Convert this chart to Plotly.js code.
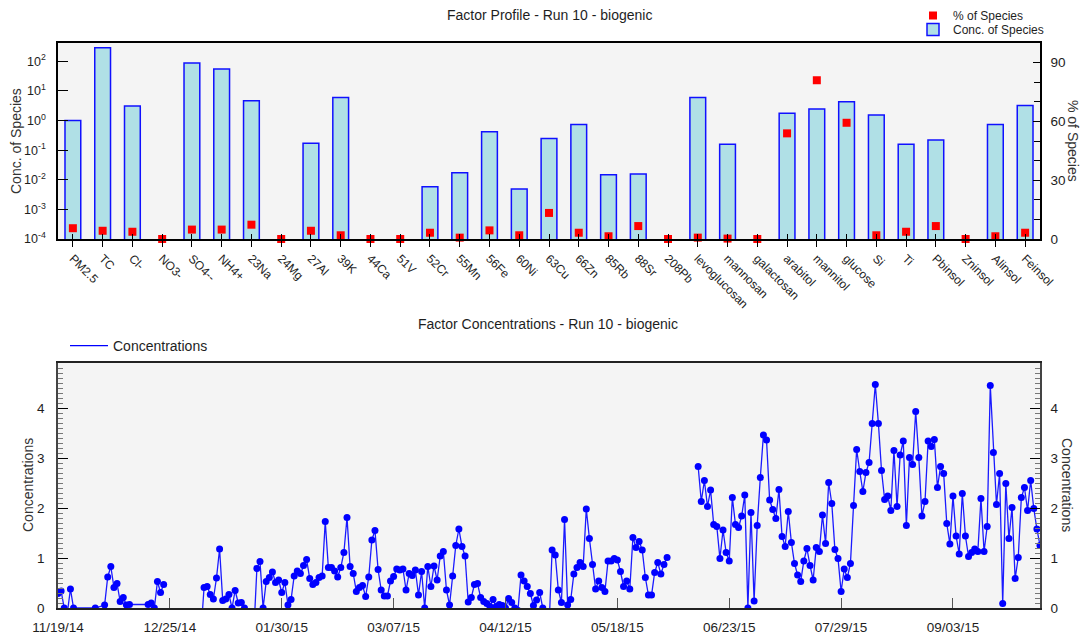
<!DOCTYPE html>
<html>
<head>
<meta charset="utf-8">
<script src="https://cdn.plot.ly/plotly-3.0.1.min.js"></script>
<style>
  html, body { margin: 0; padding: 0; background: #ffffff; }
  #chart { width: 1081px; height: 635px; }
</style>
</head>
<body>
<div id="chart"></div>
<script>
// ---- Factor profile (run 10, biogenic) ----
const species = ['PM2.5', 'TC', 'Cl-', 'NO3-', 'SO4--', 'NH4+', '23Na', '24Mg', '27Al', '39K',
  '44Ca', '51V', '52Cr', '55Mn', '56Fe', '60Ni', '63Cu', '66Zn', '85Rb', '88Sr', '208Pb',
  'levoglucosan', 'mannosan', 'galactosan', 'arabitol', 'mannitol', 'glucose', 'Si', 'Ti',
  'Pbinsol', 'Zninsol', 'Alinsol', 'Feinsol'];
const concOfSpecies = [1.0, 288, 3.1, 0, 88, 55, 4.7, 0, 0.17, 6.0,
  0, 0, 0.0058, 0.0173, 0.42, 0.0049, 0.25, 0.74, 0.0148, 0.0158, 0,
  6.0, 0.16, 0, 1.78, 2.45, 4.3, 1.54, 0.158,
  0.22, 0, 0.74, 3.2];
const pctOfSpecies = [5.5, 4.2, 3.7, 0, 4.8, 4.8, 7.3, 0, 4.2, 1.9,
  0, 0, 3.2, 0.7, 4.4, 1.9, 13.3, 3.2, 1.4, 6.6, 0,
  0.7, 0.2, 0, 53.9, 81.0, 59.3, 1.9, 3.7,
  6.6, 0, 1.4, 3.2];
const logTickVals = [1e-4, 1e-3, 1e-2, 1e-1, 1, 10, 100];
const logTickText = ['10<sup>-4</sup>', '10<sup>-3</sup>', '10<sup>-2</sup>', '10<sup>-1</sup>',
  '10<sup>0</sup>', '10<sup>1</sup>', '10<sup>2</sup>'];

// ---- Factor contributions over time (null = break in the line) ----
const sampleDates = [
  '2014-11-19', '2014-11-20', '2014-11-21', '2014-11-22', '2014-11-23', '2014-11-24',
  '2014-12-01', '2014-12-04', '2014-12-05', '2014-12-06', '2014-12-07', '2014-12-08',
  '2014-12-09', '2014-12-10', '2014-12-11', '2014-12-12', '2014-12-18', '2014-12-19',
  '2014-12-20', '2014-12-21', '2014-12-22', '2014-12-23', '2014-12-24',
  '2015-01-04', '2015-01-05', '2015-01-06', '2015-01-07', '2015-01-08', '2015-01-09',
  '2015-01-10', '2015-01-11', '2015-01-12', '2015-01-13', '2015-01-14', '2015-01-15',
  '2015-01-16', '2015-01-17', '2015-01-18', '2015-01-21', '2015-01-22', '2015-01-23',
  '2015-01-24', '2015-01-25', '2015-01-26', '2015-01-27', '2015-01-28', '2015-01-29',
  '2015-01-30', '2015-01-31',
  '2015-02-01', '2015-02-02', '2015-02-03', '2015-02-04', '2015-02-05', '2015-02-06',
  '2015-02-07', '2015-02-08', '2015-02-09', '2015-02-10', '2015-02-11', '2015-02-12',
  '2015-02-13', '2015-02-14', '2015-02-15', '2015-02-16', '2015-02-17', '2015-02-18',
  '2015-02-19', '2015-02-20', '2015-02-21', '2015-02-22', '2015-02-23', '2015-02-24',
  '2015-02-25', '2015-02-26', '2015-02-27', '2015-02-28',
  '2015-03-01', '2015-03-02', '2015-03-03', '2015-03-04', '2015-03-05', '2015-03-06',
  '2015-03-07', '2015-03-08', '2015-03-09', '2015-03-10', '2015-03-11', '2015-03-12',
  '2015-03-13', '2015-03-14', '2015-03-15', '2015-03-16', '2015-03-17', '2015-03-18',
  '2015-03-19', '2015-03-20', '2015-03-21', '2015-03-22', '2015-03-23', '2015-03-24',
  '2015-03-25', '2015-03-26', '2015-03-27', '2015-03-28', '2015-03-29', '2015-03-30',
  '2015-03-31',
  '2015-04-01', '2015-04-02', '2015-04-03', '2015-04-04', '2015-04-05', '2015-04-06',
  '2015-04-07', '2015-04-08', '2015-04-09', '2015-04-10', '2015-04-11', '2015-04-12',
  '2015-04-13', '2015-04-14', '2015-04-15', '2015-04-16', '2015-04-17', '2015-04-18',
  '2015-04-19', '2015-04-20', '2015-04-21', '2015-04-22', '2015-04-23', '2015-04-24',
  '2015-04-26', '2015-04-27', '2015-04-28', '2015-04-29', '2015-04-30',
  '2015-05-01', '2015-05-02', '2015-05-03', '2015-05-04', '2015-05-05', '2015-05-06',
  '2015-05-07', '2015-05-08', '2015-05-09', '2015-05-10', '2015-05-11', '2015-05-12',
  '2015-05-13', '2015-05-14', '2015-05-15', '2015-05-16', '2015-05-17', '2015-05-18',
  '2015-05-19', '2015-05-20', '2015-05-21', '2015-05-22', '2015-05-23', '2015-05-24',
  '2015-05-25', '2015-05-26', '2015-05-27', '2015-05-28', '2015-05-29', '2015-05-30',
  '2015-05-31', '2015-06-01', '2015-06-02', '2015-06-03', '2015-06-04',
  '2015-06-13', '2015-06-14', '2015-06-15', '2015-06-16', '2015-06-17', '2015-06-18',
  '2015-06-19', '2015-06-20', '2015-06-21', '2015-06-22', '2015-06-23', '2015-06-24',
  '2015-06-25', '2015-06-26', '2015-06-27', '2015-06-28', '2015-06-29', '2015-06-30',
  '2015-07-01', '2015-07-02', '2015-07-03', '2015-07-04', '2015-07-05', '2015-07-06',
  '2015-07-07', '2015-07-08', '2015-07-09', '2015-07-10', '2015-07-11', '2015-07-12',
  '2015-07-13', '2015-07-14', '2015-07-15', '2015-07-16', '2015-07-17', '2015-07-18',
  '2015-07-19', '2015-07-20', '2015-07-21', '2015-07-22', '2015-07-23', '2015-07-24',
  '2015-07-25', '2015-07-26', '2015-07-27', '2015-07-28', '2015-07-29', '2015-07-30',
  '2015-07-31',
  '2015-08-01', '2015-08-02', '2015-08-03', '2015-08-04', '2015-08-05', '2015-08-06',
  '2015-08-07', '2015-08-08', '2015-08-09', '2015-08-10', '2015-08-11', '2015-08-12',
  '2015-08-13', '2015-08-14', '2015-08-15', '2015-08-16', '2015-08-17', '2015-08-18',
  '2015-08-19', '2015-08-20', '2015-08-21', '2015-08-22', '2015-08-23', '2015-08-24',
  '2015-08-25', '2015-08-26', '2015-08-27', '2015-08-28', '2015-08-29', '2015-08-30',
  '2015-08-31',
  '2015-09-01', '2015-09-02', '2015-09-03', '2015-09-04', '2015-09-05', '2015-09-06',
  '2015-09-07', '2015-09-08', '2015-09-09', '2015-09-10', '2015-09-11', '2015-09-12',
  '2015-09-13', '2015-09-14', '2015-09-15', '2015-09-16', '2015-09-17', '2015-09-18',
  '2015-09-19', '2015-09-20', '2015-09-21', '2015-09-22', '2015-09-23', '2015-09-24',
  '2015-09-25', '2015-09-26', '2015-09-27', '2015-09-28', '2015-09-29', '2015-09-30',
  '2015-10-01'
];
const concentrations = [
  0.29, 0.34, 0, -0.1, 0.38, 0,
  0, 0.06, 0.62, 0.83, 0.41, 0.49,
  0.13, 0.21, 0.06, 0.07, 0.07, 0.10,
  0, 0.53, 0.31, 0.47, null,
  -0.5, 0.41, 0.43, 0.27, 0.18, 0.60,
  1.18, 0.15, 0.18, 0.27, 0, 0.35,
  0.10, 0.11, 0, -0.5, 0.79, 0.93,
  0, 0.53, 0.61, 0.72, 0.51, 0.56,
  0.31, 0.51,
  0.06, 0.17, 0.64, 0.74, 0.69, 0.85,
  0.97, 0.59, 0.47, 0.51, 0.61, 0.64,
  1.73, 0.81, 0.81, 0.74, 0.62, 0.81,
  1.11, 1.81, 0.83, 0.69, 0.33, 0.41,
  0.45, 0.23, 0.62, 1.36,
  1.55, 0.77, 0.36, 0.24, 0.24, 0.54,
  0.63, 0.78, 0.76, 0.78, 0.36, 0.69,
  0.65, 0.76, 0.26, 0.73, 0, 0.83,
  0.43, 0.84, 0.56, 1.04, 1.13, 0.36,
  0.06, 0.64, 1.25, 1.58, 1.23, 1.04,
  0.12,
  0.21, 0.47, 0.49, 0.21, 0.13, 0.09,
  0.03, 0.17, 0.03, 0.07, 0.05, 0,
  0.19, 0.11, 0, -0.05, 0.66, 0.54,
  0.43, 0.29, 0.05, 0.16, 0.31, 0,
  -0.4, 1.16, 1.06, 0.36, 0.11,
  1.77, 0.06, 0.17, 0.68, 0.81, 0.91,
  0.83, 1.98, 1.39, 0.87, 0.38, 0.54,
  0.41, 0.33, 0.94, 0.94, 0.99, 0.96,
  0.73, 0.43, 0.54, 0.38, 1.41, 1.21,
  1.33, 1.16, 0.61, 0.26, 0.26, 0.71,
  0.91, 0.68, 0.87, 1.01, null,
  2.83, 2.13, 2.55, 2.03, 2.36, 1.67,
  1.63, 0.99, 1.56, 1.11, 0.94, 2.21,
  1.67, 1.61, 1.84, 2.26, 0, 1.91,
  0.14, 1.65, 2.61, 3.46, 3.36, 2.16,
  1.97, 1.79, 2.37, 1.43, 1.23, 1.93,
  1.31, 0.89, 0.66, 0.53, 0.94, 1.19,
  0.85, 0.56, 1.21, 1.13, 1.86, 1.29,
  2.51, 2.09, 1.17, 0.99, 0.33, 0.78,
  0.61,
  0.89, 2.05, 3.17, 2.73, 2.33, 2.71,
  2.91, 3.69, 4.47, 3.69, 2.75, 2.17,
  2.24, 1.95, 3.15, 2.03, 3.06, 3.34,
  1.65, 3.01, 2.87, 3.93, 3.01, 1.84,
  2.13, 3.34, 3.23, 3.37, 2.41, 2.83,
  2.69,
  1.69, 1.28, 2.24, 1.44, 1.08, 2.29,
  1.44, 1.03, 1.11, 1.18, 1.13, 2.19,
  1.13, 1.63, 4.45, 3.11, 2.07, 2.69,
  0.09, 2.49, 1.39, 2.01, 0.59, 1.01,
  2.21, 2.41, 1.95, 2.55, 1.99, 1.58,
  1.25
];

const W = 1081, H = 635;
const FONT = 'Liberation Sans, Arial, sans-serif';
const TXT = '#1e1e1e';
const px = v => v / W;           // horizontal pixel -> paper fraction
const py = v => 1 - v / H;       // vertical pixel (from top) -> paper fraction
const xDomain = [px(58), px(1040)];

const traces = [
  {
    type: 'bar', name: 'Conc. of Species', legend: 'legend3',
    x: species, y: concOfSpecies.map(v => (v > 0 ? v : null)),
    xaxis: 'x', yaxis: 'y',
    marker: { color: '#B0E0E6', line: { color: '#1010FF', width: 1.5 } },
    hoverinfo: 'x+y'
  },
  {
    type: 'scatter', mode: 'markers', name: '% of Species', legend: 'legend',
    x: species, y: pctOfSpecies, xaxis: 'x', yaxis: 'y2', cliponaxis: false,
    marker: { symbol: 'square', size: 8, color: '#FF0000' }
  },
  {
    // empty trace so the overlay axis carrying the inner half of the category ticks is drawn
    type: 'scatter', mode: 'markers', x: [null], y: [null], xaxis: 'x3', yaxis: 'y',
    showlegend: false, hoverinfo: 'skip'
  },
  {
    type: 'scatter', mode: 'lines+markers', name: 'Concentrations', showlegend: false,
    x: sampleDates, y: concentrations, xaxis: 'x2', yaxis: 'y3', connectgaps: false,
    line: { color: '#1a1aff', width: 1.3 },
    marker: { color: '#0000FF', size: 7 }
  },
  {
    // legend entry for the time series (line only); also anchors the right-hand axis
    type: 'scatter', mode: 'lines', name: 'Concentrations', legend: 'legend2',
    x: [null], y: [null], xaxis: 'x2', yaxis: 'y4',
    line: { color: '#0000FF', width: 1.3 }
  }
];

const baseAxis = {
  showgrid: false, zeroline: false, showline: true, linecolor: '#000', linewidth: 1.5,
  tickcolor: '#000', tickfont: { family: FONT, size: 13.5, color: TXT }
};
const fineMinor = { dtick: 0.1, ticks: 'inside', ticklen: 5, tickwidth: 1, tickcolor: '#777' };

const layout = {
  width: W, height: H,
  margin: { l: 0, r: 0, t: 0, b: 0 },
  paper_bgcolor: '#ffffff', plot_bgcolor: '#F4F4F4',
  font: { family: FONT, color: TXT },
  showlegend: true, bargap: 0.47,
  xaxis: Object.assign({}, baseAxis, {
    domain: xDomain, anchor: 'y', type: 'category', range: [-0.5, species.length - 0.5],
    tickangle: 45, ticks: 'outside', ticklen: 6, mirror: true,
    tickfont: { family: FONT, size: 12, color: TXT }
  }),
  xaxis3: {
    overlaying: 'x', anchor: 'y', side: 'bottom', range: [-0.5, species.length - 0.5],
    tickmode: 'array', tickvals: species.map((s, i) => i), showticklabels: false,
    ticks: 'inside', ticklen: 5, tickcolor: '#000', showgrid: false, zeroline: false, showline: false
  },
  yaxis: Object.assign({}, baseAxis, {
    domain: [py(239), py(43)], anchor: 'x', type: 'log', range: [-4, 2.62],
    tickmode: 'array', tickvals: logTickVals, ticktext: logTickText,
    ticks: 'inside', ticklen: 10, ticklabelstandoff: 8, mirror: true,
    tickfont: { family: FONT, size: 12.5, color: TXT }
  }),
  yaxis2: Object.assign({}, baseAxis, {
    overlaying: 'y', side: 'right', anchor: 'x', range: [0, 100], tick0: 0, dtick: 30,
    ticks: 'inside', ticklen: 7, ticklabelstandoff: 6,
    minor: { dtick: 10, ticks: 'inside', ticklen: 6, tickwidth: 1, tickcolor: '#000' }
  }),
  xaxis2: Object.assign({}, baseAxis, {
    domain: xDomain, anchor: 'y3', type: 'date',
    range: ['2014-11-19', '2015-10-01'], tick0: '2014-11-19', dtick: 36 * 86400000,
    tickformat: '%m/%d/%y', ticks: 'inside', ticklen: 10, tickcolor: '#555',
    ticklabelstandoff: 6, mirror: true, linecolor: '#222'
  }),
  yaxis3: Object.assign({}, baseAxis, {
    domain: [py(608), py(363)], anchor: 'x2', range: [0, 4.9], dtick: 1,
    ticks: 'inside', ticklen: 10, ticklabelstandoff: 9, linecolor: '#444', mirror: true,
    minor: fineMinor
  }),
  yaxis4: Object.assign({}, baseAxis, {
    overlaying: 'y3', side: 'right', anchor: 'x2', range: [0, 4.9], dtick: 1,
    ticks: 'inside', ticklen: 10, ticklabelstandoff: 6, linecolor: '#444',
    minor: fineMinor
  }),
  legend: {
    x: px(913), y: py(1), xanchor: 'left', yanchor: 'top', bgcolor: 'rgba(0,0,0,0)',
    font: { family: FONT, size: 12, color: TXT }, itemwidth: 30
  },
  legend3: {
    x: px(913), y: py(15), xanchor: 'left', yanchor: 'top', bgcolor: 'rgba(0,0,0,0)',
    font: { family: FONT, size: 12, color: TXT }, itemwidth: 30
  },
  legend2: {
    x: px(65), y: py(330), xanchor: 'left', yanchor: 'top', bgcolor: 'rgba(0,0,0,0)',
    font: { family: FONT, size: 14, color: TXT }, itemwidth: 38
  },
  annotations: [
    { text: 'Factor Profile - Run 10 - biogenic', x: px(549), y: py(15), xref: 'paper', yref: 'paper',
      showarrow: false, xanchor: 'center', yanchor: 'middle', font: { size: 14, color: TXT } },
    { text: 'Factor Concentrations - Run 10 - biogenic', x: px(548), y: py(324), xref: 'paper', yref: 'paper',
      showarrow: false, xanchor: 'center', yanchor: 'middle', font: { size: 14, color: TXT } },
    { text: 'Conc. of Species', x: px(16), y: py(141), xref: 'paper', yref: 'paper', textangle: -90,
      showarrow: false, xanchor: 'center', yanchor: 'middle', font: { size: 14, color: '#333' } },
    { text: '% of Species', x: px(1073), y: py(141), xref: 'paper', yref: 'paper', textangle: 90,
      showarrow: false, xanchor: 'center', yanchor: 'middle', font: { size: 14, color: '#333' } },
    { text: 'Concentrations', x: px(28), y: py(485), xref: 'paper', yref: 'paper', textangle: -90,
      showarrow: false, xanchor: 'center', yanchor: 'middle', font: { size: 14, color: '#333' } },
    { text: 'Concentrations', x: px(1067), y: py(485), xref: 'paper', yref: 'paper', textangle: 90,
      showarrow: false, xanchor: 'center', yanchor: 'middle', font: { size: 14, color: '#333' } }
  ]
};

Plotly.newPlot('chart', traces, layout, { displayModeBar: false, responsive: false });
</script>
</body>
</html>
